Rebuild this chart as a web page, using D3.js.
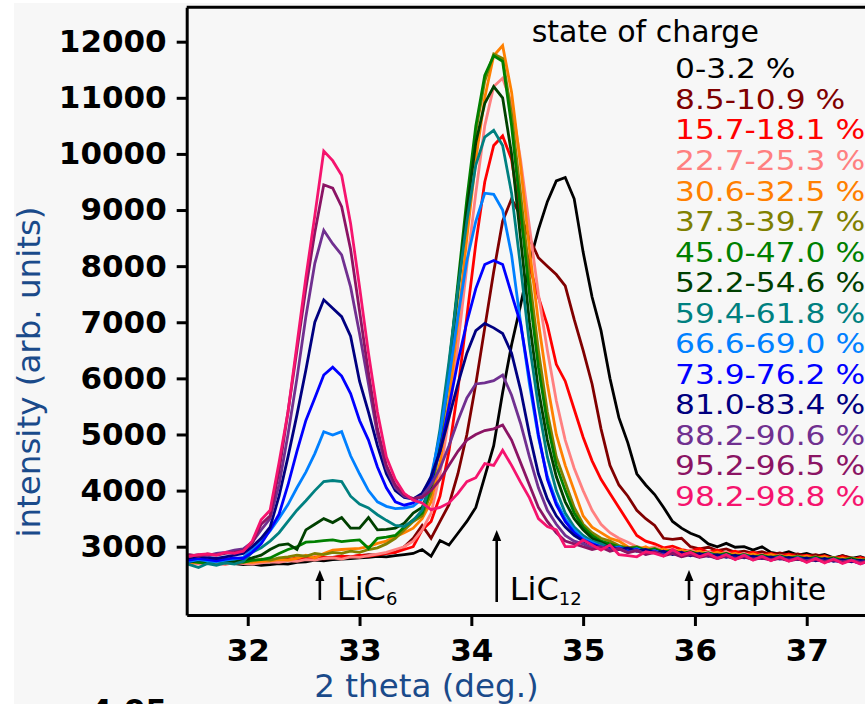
<!DOCTYPE html>
<html>
<head>
<meta charset="utf-8">
<script src="https://cdn.jsdelivr.net/npm/d3@7"></script>
<style>
  body { margin: 0; background: #fff; }
  svg { display: block; }
  text { font-family: "DejaVu Sans", sans-serif; }
</style>
</head>
<body>
<div id="chart-area"></div>
<script>
// 2 theta grid (deg.)
var theta = [31.40,31.48,31.56,31.64,31.72,31.80,31.88,31.96,32.04,32.12,
  32.20,32.28,32.36,32.44,32.52,32.60,32.68,32.76,32.84,32.92,
  33.00,33.08,33.16,33.24,33.32,33.40,33.48,33.56,33.64,33.72,
  33.80,33.88,33.96,34.04,34.12,34.20,34.28,34.36,34.44,34.52,
  34.60,34.68,34.76,34.84,34.92,35.00,35.08,35.16,35.24,35.32,
  35.40,35.48,35.56,35.64,35.72,35.80,35.88,35.96,36.04,36.12,
  36.20,36.28,36.36,36.44,36.52,36.60,36.68,36.76,36.84,36.92,
  37.00,37.08,37.16,37.24,37.32,37.40,37.48,37.56,37.64];

// intensity (arb. units) for each state of charge
var soc0 = [2720,2700,2730,2710,2690,2720,2700,2680,2690,2670,
  2680,2700,2690,2720,2730,2760,2750,2770,2780,2790,
  2800,2810,2830,2820,2840,2860,2880,2950,2830,3110,
  3030,3240,3450,3700,4250,4800,5750,6600,7300,8050,
  8650,9150,9520,9580,9200,8250,7450,6850,6000,5300,
  4850,4300,4100,3930,3700,3450,3330,3240,3180,3050,
  3000,3060,2990,3000,2940,3000,2900,2870,2910,2850,
  2880,2830,2860,2800,2840,2790,2820,2770,2800];
var soc1 = [2740,2760,2730,2750,2720,2740,2760,2730,2720,2750,
  2740,2760,2780,2770,2790,2800,2780,2810,2830,2820,
  2840,2860,2850,2880,2900,3000,3150,3380,3150,3450,
  3750,4300,5000,5900,6900,7900,8800,9200,8900,8500,
  8150,8000,7850,7650,7050,6500,5900,5100,4450,4100,
  3900,3650,3500,3380,3150,3130,3150,3000,2960,2990,
  2930,2960,2900,2920,2880,2910,2860,2890,2850,2870,
  2830,2860,2820,2780,2840,2800,2760,2810,2790];
var soc2 = [2760,2740,2770,2750,2730,2760,2740,2720,2750,2730,
  2760,2780,2770,2800,2790,2820,2810,2800,2830,2820,
  2850,2830,2860,2880,2900,2950,3000,3300,3450,3900,
  4700,5800,7100,8400,9500,10150,10320,9900,8850,8000,
  7450,6950,6250,5950,5450,4950,4530,4200,3950,3700,
  3450,3200,3100,3050,2980,3010,2950,2920,2970,2900,
  2940,2880,2920,2860,2900,2850,2880,2830,2870,2820,
  2850,2800,2840,2790,2820,2770,2810,2760,2790];
var soc3 = [2700,2720,2690,2710,2700,2680,2720,2700,2690,2710,
  2730,2720,2750,2740,2770,2760,2790,2800,2780,2820,
  2810,2840,2870,2900,2950,3000,3100,3300,3600,4300,
  5300,6600,8000,9300,10500,11200,11350,10900,9900,8700,
  7500,6500,5600,4900,4400,4000,3650,3400,3250,3150,
  3080,3000,2960,3000,2930,2960,2900,2940,2880,2910,
  2860,2900,2840,2880,2830,2860,2810,2850,2800,2830,
  2790,2820,2780,2810,2760,2790,2750,2780,2740];
var soc4 = [2720,2700,2730,2710,2740,2720,2700,2730,2720,2740,
  2750,2770,2760,2790,2850,2800,2880,2940,2950,2960,
  2970,3000,3060,3100,3180,3250,3330,3500,3800,4500,
  5600,7000,8500,9900,11000,11750,11930,11100,9800,8300,
  7000,5900,5000,4450,4000,3550,3350,3250,3150,3100,
  3000,2950,3000,2920,2960,2900,2940,2880,2920,2860,
  2900,2850,2880,2830,2870,2820,2860,2810,2840,2800,
  2830,2790,2820,2760,2800,2740,2780,2700,2680];
var soc5 = [2730,2750,2720,2740,2760,2730,2750,2740,2750,2780,
  2760,2800,2820,2850,2830,2880,2860,2900,2880,2920,
  2900,2950,2980,3050,3150,3300,3450,3550,3950,4800,
  6000,7500,9000,10400,11300,11780,11700,10700,9300,7800,
  6500,5400,4600,4150,3700,3400,3250,3150,3100,3020,
  2980,3000,2940,2970,2900,2930,2880,2910,2860,2890,
  2850,2880,2830,2860,2820,2850,2810,2840,2800,2830,
  2790,2820,2780,2810,2770,2800,2760,2790,2750];
var soc6 = [2710,2740,2720,2700,2730,2710,2740,2720,2760,2770,
  2800,2880,2950,3000,3080,3090,3110,3120,3090,3110,
  3120,2970,3150,3170,3200,3350,3480,3600,4050,4950,
  6200,7700,9200,10500,11400,11750,11650,10500,9000,7500,
  6200,5200,4450,4000,3600,3350,3200,3100,3050,3000,
  2960,2990,2930,2960,2900,2940,2870,2910,2860,2890,
  2840,2880,2820,2860,2810,2840,2800,2830,2790,2820,
  2780,2810,2760,2800,2750,2790,2740,2770,2730];
var soc7 = [2750,2730,2760,2740,2770,2750,2730,2760,2800,2850,
  2950,3030,3050,2950,3300,3400,3500,3430,3520,3330,
  3330,3520,3300,3310,3330,3420,3600,3700,4100,5000,
  6200,7600,9000,10200,10900,11200,11000,10000,8500,7000,
  5800,4900,4250,3800,3500,3300,3150,3080,3000,2980,
  2950,2970,2910,2940,2880,2920,2860,2900,2850,2880,
  2830,2870,2820,2850,2800,2840,2790,2830,2780,2810,
  2770,2800,2760,2790,2740,2780,2730,2760,2720];
var soc8 = [2720,2680,2630,2700,2670,2710,2690,2740,2900,2980,
  3100,3250,3450,3650,3820,4000,4160,4180,4160,3900,
  3760,3690,3570,3470,3380,3360,3470,3650,4150,5100,
  6300,7600,8800,9800,10300,10420,10150,9300,8000,6600,
  5500,4600,4000,3600,3350,3200,3100,3050,2980,3000,
  2940,2970,2900,2930,2870,2910,2860,2890,2840,2880,
  2830,2860,2810,2850,2800,2830,2790,2820,2770,2810,
  2760,2790,2740,2780,2730,2760,2720,2750,2710];
var soc9 = [2760,2740,2770,2750,2730,2760,2780,2810,2950,3100,
  3280,3510,3750,4050,4330,4660,5050,4990,5050,4620,
  4300,4000,3800,3720,3680,3690,3720,3850,4250,5000,
  6000,7100,8100,8800,9300,9280,9000,8200,7000,5900,
  4950,4250,3800,3500,3300,3150,3080,3000,2960,2990,
  2930,2960,2900,2930,2870,2900,2850,2880,2830,2870,
  2820,2850,2800,2840,2790,2820,2780,2810,2770,2800,
  2750,2790,2740,2770,2730,2760,2720,2750,2710];
var soc10 = [2780,2760,2790,2770,2750,2780,2800,2790,2900,3050,
  3300,3580,4100,4700,5250,5650,6060,6200,6040,5730,
  5250,4900,4420,4050,3800,3740,3780,3950,4200,4700,
  5500,6300,7000,7600,8030,8100,8030,7500,6980,6000,
  5000,4200,3750,3450,3250,3120,3050,3000,2950,2980,
  2920,2950,2880,2920,2860,2890,2840,2880,2820,2860,
  2810,2840,2790,2830,2780,2810,2770,2800,2760,2790,
  2740,2780,2730,2760,2720,2750,2700,2740,2690];
var soc11 = [2820,2800,2830,2810,2790,2820,2850,2880,3000,3150,
  3350,3900,4600,5350,6150,7000,7400,7250,7100,6750,
  5950,5400,4800,4300,4000,3880,3850,3950,4250,4700,
  5300,5900,6450,6850,6980,6900,6800,6450,5800,5000,
  4300,3850,3550,3350,3200,3100,3030,2980,3010,2950,
  2980,2920,2950,2890,2920,2860,2900,2840,2880,2830,
  2860,2810,2850,2800,2830,2790,2820,2780,2810,2770,
  2800,2750,2790,2740,2770,2730,2760,2720,2740];
var soc12 = [2850,2830,2860,2840,2880,2900,2940,2960,3080,3300,
  3500,4100,5000,6000,7100,8050,8640,8400,8200,7630,
  6800,5900,5000,4400,4050,3900,3850,3900,4100,4400,
  4800,5250,5650,5900,5920,5960,6060,5700,5200,4600,
  4050,3650,3400,3200,3100,3050,2980,3000,2940,2970,
  2900,2940,2870,2910,2850,2890,2830,2870,2820,2850,
  2800,2840,2790,2830,2780,2810,2770,2800,2760,2790,
  2750,2780,2740,2770,2730,2760,2720,2750,2730];
var soc13 = [2840,2860,2830,2870,2850,2880,2900,2930,3060,3400,
  3550,4350,5400,6500,7600,8600,9450,9390,9060,8300,
  7200,6100,5100,4450,4100,3920,3860,3880,4000,4200,
  4450,4700,4900,5000,5070,5100,5170,4900,4500,4100,
  3700,3450,3250,3100,3050,3000,2950,2990,2920,2960,
  2890,2930,2860,2900,2840,2880,2820,2860,2810,2840,
  2790,2830,2780,2820,2770,2800,2760,2790,2750,2780,
  2740,2770,2730,2760,2720,2750,2710,2740,2720];
var soc14 = [2850,2830,2860,2870,2850,2900,2880,2920,3100,3480,
  3650,4500,5400,6600,7800,8900,10050,9880,9620,8760,
  7630,6450,5400,4600,4200,3950,3830,3780,3660,3700,
  3780,3950,4160,4230,4480,4450,4720,4450,4150,3870,
  3500,3360,3300,3000,3000,3120,3030,2940,3030,2860,
  2840,2820,2910,2880,2830,2950,2850,2900,2820,2880,
  2790,2860,2770,2850,2760,2830,2750,2820,2740,2800,
  2720,2790,2710,2780,2700,2760,2690,2750,2700];

var socLabels = ["0-3.2 %", "8.5-10.9 %", "15.7-18.1 %", "22.7-25.3 %", "30.6-32.5 %",
  "37.3-39.7 %", "45.0-47.0 %", "52.2-54.6 %", "59.4-61.8 %", "66.6-69.0 %",
  "73.9-76.2 %", "81.0-83.4 %", "88.2-90.6 %", "95.2-96.5 %", "98.2-98.8 %"];
var socColors = ["#000000", "#800000", "#ff0000", "#ff8080", "#ff8000",
  "#808000", "#008000", "#004000", "#008080", "#0080ff",
  "#0000ff", "#000080", "#703090", "#8b1464", "#f5146e"];
var series = [soc0, soc1, soc2, soc3, soc4, soc5, soc6, soc7, soc8, soc9,
  soc10, soc11, soc12, soc13, soc14];

var xTicks = [32, 33, 34, 35, 36, 37];
var yTicks = [3000, 4000, 5000, 6000, 7000, 8000, 9000, 10000, 11000, 12000];

// reflection markers
var peakNames = ["LiC", "LiC", "graphite"];
var peakSubs = ["6", "12", ""];
var peakTheta = [32.645, 34.227, 35.947];

// layout
var W = 865, H = 704;
var plot = {left: 186.7, right: 873.8, top: 7.3, bottom: 615};

var svg = d3.select("#chart-area")
  .append("svg")
  .attr("width", W)
  .attr("height", H);

svg.append("rect").attr("width", W).attr("height", H).attr("fill", "#ffffff");
svg.append("rect").attr("x", 14).attr("y", 3)
  .attr("width", W - 14).attr("height", H - 3).attr("fill", "#f7f7f7");

var xScale = d3.scaleLinear()
  .domain([31.454, 37.6])
  .range([plot.left, plot.right]);

var yScale = d3.scaleLinear()
  .domain([1783, 12613])
  .range([plot.bottom, plot.top]);

svg.append("clipPath").attr("id", "clip")
  .append("rect")
  .attr("x", plot.left).attr("y", plot.top)
  .attr("width", plot.right - plot.left)
  .attr("height", plot.bottom - plot.top);

// curves
var line = d3.line()
  .x(function(d, i) { return xScale(theta[i]); })
  .y(function(d) { return yScale(d); });

svg.append("g")
  .attr("clip-path", "url(#clip)")
  .selectAll("path")
  .data(series)
  .enter()
  .append("path")
  .attr("d", line)
  .attr("fill", "none")
  .attr("stroke", function(d, i) { return socColors[i]; })
  .attr("stroke-width", 2.8)
  .attr("stroke-linejoin", "miter")
  .attr("stroke-miterlimit", 3);

// frame
svg.append("path")
  .attr("d", "M" + plot.left + "," + plot.top + "H" + plot.right + "V" + plot.bottom)
  .attr("fill", "none")
  .attr("stroke", "#000")
  .attr("stroke-width", 3);

// axes
var xAxis = d3.axisBottom(xScale)
  .tickValues(xTicks)
  .tickFormat(d3.format("d"))
  .tickSizeInner(11)
  .tickSizeOuter(0)
  .tickPadding(13);

var yAxis = d3.axisLeft(yScale)
  .tickValues(yTicks)
  .tickFormat(d3.format("d"))
  .tickSizeInner(10)
  .tickSizeOuter(0)
  .tickPadding(10);

var gx = svg.append("g")
  .attr("transform", "translate(0," + plot.bottom + ")")
  .call(xAxis);

var gy = svg.append("g")
  .attr("transform", "translate(" + plot.left + ",0)")
  .call(yAxis);

[gx, gy].forEach(function(g) {
  g.select(".domain").attr("stroke-width", 3).attr("stroke", "#000");
  g.selectAll(".tick line").attr("stroke-width", 3).attr("stroke", "#000");
  g.selectAll(".tick text")
    .attr("fill", "#000")
    .style("font-family", "'DejaVu Sans', sans-serif")
    .style("font-weight", "bold")
    .style("font-size", "31px");
});

// axis titles
svg.append("text")
  .attr("x", 426.5)
  .attr("y", 696.7)
  .attr("text-anchor", "middle")
  .attr("fill", "#1a4a8a")
  .style("font-size", "32.5px")
  .text("2 theta (deg.)");

svg.append("text")
  .attr("transform", "translate(40,372) rotate(-90)")
  .attr("text-anchor", "middle")
  .attr("fill", "#1a4a8a")
  .style("font-size", "32.5px")
  .text("intensity (arb. units)");

// cut-off tick label of the panel below
svg.append("text")
  .attr("x", 167)
  .attr("y", 721)
  .attr("text-anchor", "end")
  .style("font-weight", "bold")
  .style("font-size", "31px")
  .text("4.05");

// legend
svg.append("text")
  .attr("x", 531.7)
  .attr("y", 41.7)
  .style("font-size", "30px")
  .text("state of charge");

svg.selectAll(".soc-label")
  .data(socLabels)
  .enter()
  .append("text")
  .attr("class", "soc-label")
  .attr("transform", function(d, i) {
    return "translate(675," + (78.3 + i * 30.55) + ") scale(1.18,1)";
  })
  .attr("fill", function(d, i) { return socColors[i]; })
  .style("font-size", "26.5px")
  .text(function(d) { return d; });

// reflection markers
var arrowTop = [570, 530, 570];
var arrowBottom = [600, 602, 600];
var labelDx = [17, 13, 13];
var labelSize = [32, 32, 29.5];

peakTheta.forEach(function(t, i) {
  var x = xScale(t);
  svg.append("line")
    .attr("x1", x).attr("x2", x)
    .attr("y1", arrowTop[i] + 8).attr("y2", arrowBottom[i])
    .attr("stroke", "#000")
    .attr("stroke-width", 2.6);
  svg.append("path")
    .attr("d", "M" + x + "," + arrowTop[i] + "L" + (x - 4.5) + "," + (arrowTop[i] + 11) +
      "L" + (x + 4.5) + "," + (arrowTop[i] + 11) + "Z")
    .attr("fill", "#000");
  var t1 = svg.append("text")
    .attr("x", x + labelDx[i])
    .attr("y", 600)
    .style("font-size", labelSize[i] + "px")
    .text(peakNames[i]);
  if (peakSubs[i]) {
    t1.append("tspan")
      .attr("dy", 5)
      .style("font-size", "18px")
      .text(peakSubs[i]);
  }
});
</script>
</body>
</html>
